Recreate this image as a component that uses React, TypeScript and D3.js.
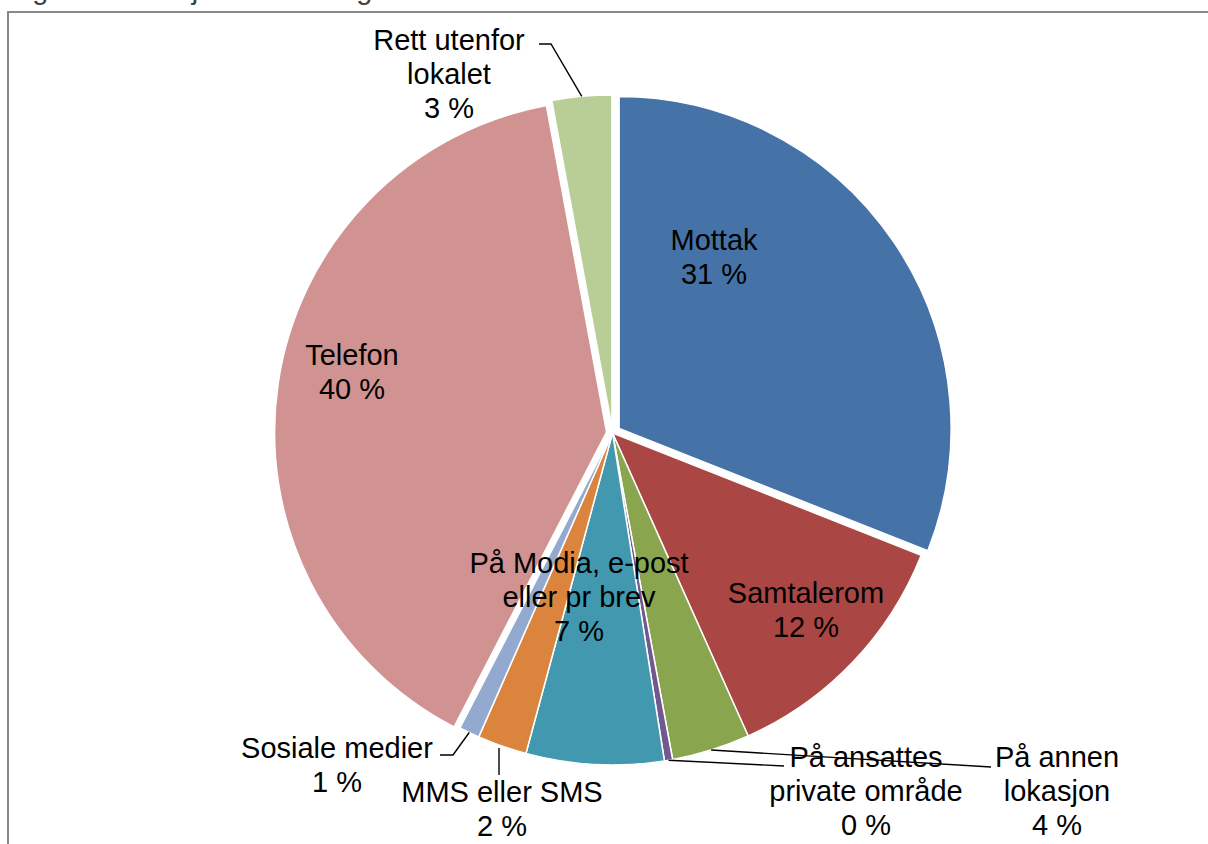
import React from "react";
import * as d3 from "d3";

// ---- data ----
const categories = [
  "Mottak",
  "Samtalerom",
  "På annen lokasjon",
  "På ansattes private område",
  "På Modia, e-post eller pr brev",
  "MMS eller SMS",
  "Sosiale medier",
  "Telefon",
  "Rett utenfor lokalet",
];
const shares = [31.0, 12.3, 3.8, 0.4, 6.7, 2.4, 1.0, 39.5, 2.9];
const labelLines = [
  ["Mottak"],
  ["Samtalerom"],
  ["På annen", "lokasjon"],
  ["På ansattes", "private område"],
  ["På Modia, e-post", "eller pr brev"],
  ["MMS eller SMS"],
  ["Sosiale medier"],
  ["Telefon"],
  ["Rett utenfor", "lokalet"],
];
const colors = [
  "#4572A7",
  "#AA4643",
  "#89A54E",
  "#71588F",
  "#4198AF",
  "#DB843D",
  "#93A9CF",
  "#D19392",
  "#B9CD96",
];
const titleText = "Figur 5: Hvor tjenesten ble gitt";

// ---- layout ----
const W = 1208;
const H = 844;
const CX = 612.5;
const CY = 433;
const R = 332;
const FONT = 29;
const LINE_H = 34;
const explode: Record<number, number> = { 0: 8, 7: 6, 8: 6 };
// label block centre x, first line centre y, optional leader path points (after the anchor on the arc)
const labelLayout: { x: number; y: number; leader?: [number, number][]; vertical?: number }[] = [
  { x: 714, y: 240 },
  { x: 806, y: 593 },
  { x: 1057, y: 757, leader: [[991, 767]] },
  { x: 866, y: 757, leader: [[784, 766]] },
  { x: 579, y: 563 },
  { x: 502, y: 792, vertical: 775 },
  { x: 337, y: 748, leader: [[453, 755], [440, 755]] },
  { x: 352, y: 355 },
  { x: 449, y: 40, leader: [[551, 44], [539, 44]] },
];

export default function App() {
  const pie = d3
    .pie<number>()
    .sort(null)
    .value((d) => d)
    .startAngle(0)
    .endAngle(2 * Math.PI);
  const arcs = pie(shares);
  const arcGen = d3.arc<d3.PieArcDatum<number>>().innerRadius(0).outerRadius(R);

  const offsetOf = (i: number) => {
    const a = arcs[i];
    const mid = (a.startAngle + a.endAngle) / 2;
    const e = explode[i] || 0;
    return [Math.sin(mid) * e, -Math.cos(mid) * e];
  };
  const anchorOf = (i: number) => {
    const a = arcs[i];
    const mid = (a.startAngle + a.endAngle) / 2;
    const [ox, oy] = offsetOf(i);
    return [CX + ox + Math.sin(mid) * R, CY + oy - Math.cos(mid) * R];
  };

  const font = "Arial, 'Liberation Sans', Helvetica, sans-serif";

  return (
    <svg
      width={W}
      height={H}
      style={{ position: "absolute", left: 0, top: 0, background: "#fff" }}
      fontFamily={font}
    >
      <rect x={0} y={0} width={W} height={H} fill="#fff" />
      <text x={8} y={-1} fontSize={FONT} fill="#404040">
        {titleText}
      </text>
      <rect x={8} y={12} width={W + 50} height={H + 50} fill="none" stroke="#878787" strokeWidth={2} />
      <g>
        {arcs.map((a, i) => {
          const [ox, oy] = offsetOf(i);
          return (
            <path
              key={categories[i]}
              d={arcGen(a) || ""}
              transform={`translate(${CX + ox},${CY + oy})`}
              fill={colors[i]}
              stroke="#fff"
              strokeWidth={1.5}
              strokeLinejoin="round"
            />
          );
        })}
      </g>
      <g fill="none" stroke="#000" strokeWidth={1.4}>
        {labelLayout.map((l, i) => {
          const [ax, ay] = anchorOf(i);
          if (l.vertical !== undefined) {
            return <line key={i} x1={ax - 3} y1={ay + 2} x2={ax - 3} y2={l.vertical} />;
          }
          if (!l.leader) return null;
          const pts = [[ax, ay], ...l.leader];
          return <polyline key={i} points={pts.map((p) => p.join(",")).join(" ")} />;
        })}
      </g>
      <g fontSize={FONT} fill="#000" textAnchor="middle">
        {labelLayout.map((l, i) => {
          const lines = [...labelLines[i], `${Math.round(shares[i])} %`];
          return (
            <text key={i}>
              {lines.map((t, k) => (
                <tspan key={k} x={l.x} y={l.y + k * LINE_H + FONT * 0.36}>
                  {t}
                </tspan>
              ))}
            </text>
          );
        })}
      </g>
    </svg>
  );
}
